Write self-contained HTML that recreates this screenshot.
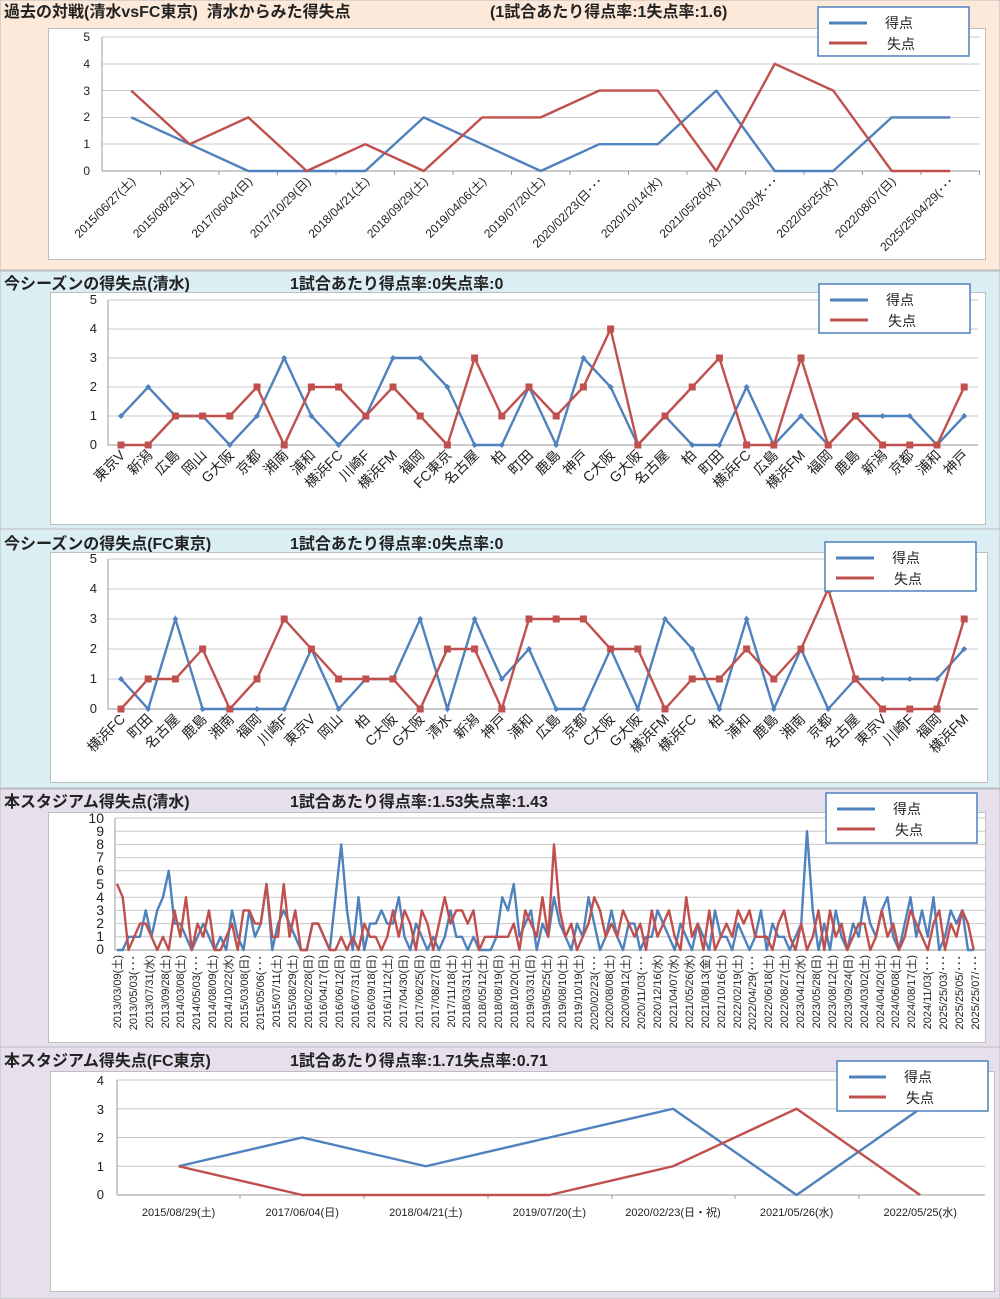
<!DOCTYPE html>
<html><head><meta charset="utf-8"><style>
body{margin:0;width:1000px;height:1299px;overflow:hidden;background:#fff}
svg{display:block}
text{font-family:"Liberation Sans","Noto Sans CJK JP",sans-serif;fill:#222}
.t{font-size:16px;font-weight:bold}
.ax{font-size:11px;fill:#333}
.cl{font-size:13px;fill:#222}
.g{stroke:#c8c8c8;stroke-width:1}
.b{fill:none;stroke:#4f81bd;stroke-width:2.4;vector-effect:non-scaling-stroke;stroke-linejoin:round}
.r{fill:none;stroke:#c0504d;stroke-width:2.4;vector-effect:non-scaling-stroke;stroke-linejoin:round}
.bx{fill:#fff;stroke:#bfbfbf}
.lg{fill:#fff;stroke:#4f81bd;stroke-width:1.5}
</style></head><body>
<svg width="1000" height="1299" viewBox="0 0 1000 1299">
<defs>
<marker id="md" markerUnits="userSpaceOnUse" markerWidth="8" markerHeight="8" refX="4" refY="4"><path d="M4 1L7 4L4 7L1 4Z" fill="#4f81bd"/></marker>
<marker id="ms" markerUnits="userSpaceOnUse" markerWidth="8" markerHeight="8" refX="4" refY="4"><rect x="0.5" y="0.5" width="7" height="7" fill="#c0504d"/></marker>
</defs>
<rect x="0" y="0" width="1000" height="270" fill="#fde9d9" stroke="#bbb"/>
<rect x="0" y="271" width="1000" height="258" fill="#daeef3" stroke="#bbb"/>
<rect x="0" y="529" width="1000" height="259" fill="#daeef3" stroke="#bbb"/>
<rect x="0" y="789" width="1000" height="258" fill="#e5e0ec" stroke="#bbb"/>
<rect x="0" y="1047" width="1000" height="252" fill="#e5e0ec" stroke="#bbb"/>

<!-- ============ PANEL 1 ============ -->
<text class="t" x="4" y="17">過去の対戦(清水vsFC東京)&#160;&#160;清水からみた得失点</text>
<text class="t" x="490" y="17">(1試合あたり得点率:1失点率:1.6)</text>
<rect class="bx" x="48.5" y="28.5" width="937" height="231"/>
<g class="g">
<line x1="102" x2="980" y1="37" y2="37"/><line x1="102" x2="980" y1="64" y2="64"/><line x1="102" x2="980" y1="90.5" y2="90.5"/><line x1="102" x2="980" y1="117.5" y2="117.5"/><line x1="102" x2="980" y1="144" y2="144"/>
</g>
<line x1="102" x2="980" y1="171" y2="171" stroke="#999"/>
<line x1="102" x2="102" y1="37" y2="171" stroke="#999"/>
<g stroke="#999"><line x1="160.5" x2="160.5" y1="171" y2="175"/><line x1="219" x2="219" y1="171" y2="175"/><line x1="277.5" x2="277.5" y1="171" y2="175"/><line x1="336" x2="336" y1="171" y2="175"/><line x1="394.5" x2="394.5" y1="171" y2="175"/><line x1="453" x2="453" y1="171" y2="175"/><line x1="511.5" x2="511.5" y1="171" y2="175"/><line x1="570" x2="570" y1="171" y2="175"/><line x1="628.5" x2="628.5" y1="171" y2="175"/><line x1="687" x2="687" y1="171" y2="175"/><line x1="745.5" x2="745.5" y1="171" y2="175"/><line x1="804" x2="804" y1="171" y2="175"/><line x1="862.5" x2="862.5" y1="171" y2="175"/><line x1="921" x2="921" y1="171" y2="175"/><line x1="979.5" x2="979.5" y1="171" y2="175"/></g>
<g class="ax" text-anchor="end" style="font-size:12px"><text x="90" y="41">5</text><text x="90" y="68">4</text><text x="90" y="95">3</text><text x="90" y="121">2</text><text x="90" y="148">1</text><text x="90" y="175">0</text></g>
<g class="ax" text-anchor="end" style="font-size:12px">
<text transform="translate(136,182) rotate(-45)">2015/06/27(土)</text>
<text transform="translate(194.5,182) rotate(-45)">2015/08/29(土)</text>
<text transform="translate(253,182) rotate(-45)">2017/06/04(日)</text>
<text transform="translate(311.5,182) rotate(-45)">2017/10/29(日)</text>
<text transform="translate(370,182) rotate(-45)">2018/04/21(土)</text>
<text transform="translate(428.5,182) rotate(-45)">2018/09/29(土)</text>
<text transform="translate(487,182) rotate(-45)">2019/04/06(土)</text>
<text transform="translate(545.5,182) rotate(-45)">2019/07/20(土)</text>
<text transform="translate(604,182) rotate(-45)">2020/02/23(日･･･</text>
<text transform="translate(662.5,182) rotate(-45)">2020/10/14(水)</text>
<text transform="translate(721,182) rotate(-45)">2021/05/26(水)</text>
<text transform="translate(779.5,182) rotate(-45)">2021/11/03(水･･･</text>
<text transform="translate(838,182) rotate(-45)">2022/05/25(水)</text>
<text transform="translate(896.5,182) rotate(-45)">2022/08/07(日)</text>
<text transform="translate(955,182) rotate(-45)">2025/25/04/29(･･･</text>
</g>
<g transform="translate(131.25,171) scale(58.5,-26.8)">
<polyline class="b" points="0,2 1,1 2,0 3,0 4,0 5,2 6,1 7,0 8,1 9,1 10,3 11,0 12,0 13,2 14,2"/>
<polyline class="r" points="0,3 1,1 2,2 3,0 4,1 5,0 6,2 7,2 8,3 9,3 10,0 11,4 12,3 13,0 14,0"/>
</g>
<rect class="lg" x="818" y="7" width="151" height="49"/>
<line x1="829" x2="867" y1="23" y2="23" stroke="#4f81bd" stroke-width="3"/>
<line x1="829" x2="867" y1="43" y2="43" stroke="#c0504d" stroke-width="3"/>
<text class="cl" x="885" y="28" style="font-size:14px">得点</text><text class="cl" x="887" y="49" style="font-size:14px">失点</text>

<!-- ============ PANEL 2 ============ -->
<text class="t" x="4" y="289">今シーズンの得失点(清水)</text>
<text class="t" x="290" y="289">1試合あたり得点率:0失点率:0</text>
<rect class="bx" x="50.5" y="292.5" width="935" height="232"/>
<g class="g"><line x1="108" x2="978" y1="300" y2="300"/><line x1="108" x2="978" y1="329" y2="329"/><line x1="108" x2="978" y1="358" y2="358"/><line x1="108" x2="978" y1="387" y2="387"/><line x1="108" x2="978" y1="416" y2="416"/></g>
<line x1="108" x2="978" y1="445" y2="445" stroke="#999"/>
<line x1="108" x2="108" y1="300" y2="445" stroke="#999"/>
<g class="ax" text-anchor="end" style="font-size:13px"><text x="97" y="304">5</text><text x="97" y="333">4</text><text x="97" y="362">3</text><text x="97" y="391">2</text><text x="97" y="420">1</text><text x="97" y="449">0</text></g>
<g class="cl" text-anchor="end" style="font-size:14px">
<text transform="translate(126,456) rotate(-45)">東京V</text>
<text transform="translate(153.2,456) rotate(-45)">新潟</text>
<text transform="translate(180.4,456) rotate(-45)">広島</text>
<text transform="translate(207.6,456) rotate(-45)">岡山</text>
<text transform="translate(234.8,456) rotate(-45)">G大阪</text>
<text transform="translate(262,456) rotate(-45)">京都</text>
<text transform="translate(289.2,456) rotate(-45)">湘南</text>
<text transform="translate(316.4,456) rotate(-45)">浦和</text>
<text transform="translate(343.6,456) rotate(-45)">横浜FC</text>
<text transform="translate(370.8,456) rotate(-45)">川崎F</text>
<text transform="translate(398,456) rotate(-45)">横浜FM</text>
<text transform="translate(425.2,456) rotate(-45)">福岡</text>
<text transform="translate(452.4,456) rotate(-45)">FC東京</text>
<text transform="translate(479.6,456) rotate(-45)">名古屋</text>
<text transform="translate(506.8,456) rotate(-45)">柏</text>
<text transform="translate(534,456) rotate(-45)">町田</text>
<text transform="translate(561.2,456) rotate(-45)">鹿島</text>
<text transform="translate(588.4,456) rotate(-45)">神戸</text>
<text transform="translate(615.6,456) rotate(-45)">C大阪</text>
<text transform="translate(642.8,456) rotate(-45)">G大阪</text>
<text transform="translate(670,456) rotate(-45)">名古屋</text>
<text transform="translate(697.2,456) rotate(-45)">柏</text>
<text transform="translate(724.4,456) rotate(-45)">町田</text>
<text transform="translate(751.6,456) rotate(-45)">横浜FC</text>
<text transform="translate(778.8,456) rotate(-45)">広島</text>
<text transform="translate(806,456) rotate(-45)">横浜FM</text>
<text transform="translate(833.2,456) rotate(-45)">福岡</text>
<text transform="translate(860.4,456) rotate(-45)">鹿島</text>
<text transform="translate(887.6,456) rotate(-45)">新潟</text>
<text transform="translate(914.8,456) rotate(-45)">京都</text>
<text transform="translate(942,456) rotate(-45)">浦和</text>
<text transform="translate(969.2,456) rotate(-45)">神戸</text>
</g>
<polyline fill="none" stroke="#4f81bd" stroke-width="2.4" marker-start="url(#md)" marker-mid="url(#md)" marker-end="url(#md)" points="121,416 148.2,387 175.4,416 202.6,416 229.8,445 257,416 284.2,358 311.4,416 338.6,445 365.8,416 393,358 420.2,358 447.4,387 474.6,445 501.8,445 529,387 556.2,445 583.4,358 610.6,387 637.8,445 665,416 692.2,445 719.4,445 746.6,387 773.8,445 801,416 828.2,445 855.4,416 882.6,416 909.8,416 937,445 964.2,416"/>
<polyline fill="none" stroke="#c0504d" stroke-width="2.4" marker-start="url(#ms)" marker-mid="url(#ms)" marker-end="url(#ms)" points="121,445 148.2,445 175.4,416 202.6,416 229.8,416 257,387 284.2,445 311.4,387 338.6,387 365.8,416 393,387 420.2,416 447.4,445 474.6,358 501.8,416 529,387 556.2,416 583.4,387 610.6,329 637.8,445 665,416 692.2,387 719.4,358 746.6,445 773.8,445 801,358 828.2,445 855.4,416 882.6,445 909.8,445 937,445 964.2,387"/>
<rect class="lg" x="819" y="284" width="151" height="49"/>
<line x1="830" x2="868" y1="300" y2="300" stroke="#4f81bd" stroke-width="3"/>
<line x1="830" x2="868" y1="320" y2="320" stroke="#c0504d" stroke-width="3"/>
<text class="cl" x="886" y="305" style="font-size:14px">得点</text><text class="cl" x="888" y="326" style="font-size:14px">失点</text>

<!-- ============ PANEL 3 ============ -->
<text class="t" x="4" y="549">今シーズンの得失点(FC東京)</text>
<text class="t" x="290" y="549">1試合あたり得点率:0失点率:0</text>
<rect class="bx" x="50.5" y="552.5" width="937" height="230"/>
<g class="g"><line x1="108" x2="978" y1="559" y2="559"/><line x1="108" x2="978" y1="589" y2="589"/><line x1="108" x2="978" y1="619" y2="619"/><line x1="108" x2="978" y1="649" y2="649"/><line x1="108" x2="978" y1="679" y2="679"/></g>
<line x1="108" x2="978" y1="709" y2="709" stroke="#999"/>
<line x1="108" x2="108" y1="559" y2="709" stroke="#999"/>
<g class="ax" text-anchor="end" style="font-size:13px"><text x="97" y="563">5</text><text x="97" y="593">4</text><text x="97" y="623">3</text><text x="97" y="653">2</text><text x="97" y="683">1</text><text x="97" y="713">0</text></g>
<g class="cl" text-anchor="end" style="font-size:14px">
<text transform="translate(126,720) rotate(-45)">横浜FC</text>
<text transform="translate(153.2,720) rotate(-45)">町田</text>
<text transform="translate(180.4,720) rotate(-45)">名古屋</text>
<text transform="translate(207.6,720) rotate(-45)">鹿島</text>
<text transform="translate(234.8,720) rotate(-45)">湘南</text>
<text transform="translate(262,720) rotate(-45)">福岡</text>
<text transform="translate(289.2,720) rotate(-45)">川崎F</text>
<text transform="translate(316.4,720) rotate(-45)">東京V</text>
<text transform="translate(343.6,720) rotate(-45)">岡山</text>
<text transform="translate(370.8,720) rotate(-45)">柏</text>
<text transform="translate(398,720) rotate(-45)">C大阪</text>
<text transform="translate(425.2,720) rotate(-45)">G大阪</text>
<text transform="translate(452.4,720) rotate(-45)">清水</text>
<text transform="translate(479.6,720) rotate(-45)">新潟</text>
<text transform="translate(506.8,720) rotate(-45)">神戸</text>
<text transform="translate(534,720) rotate(-45)">浦和</text>
<text transform="translate(561.2,720) rotate(-45)">広島</text>
<text transform="translate(588.4,720) rotate(-45)">京都</text>
<text transform="translate(615.6,720) rotate(-45)">C大阪</text>
<text transform="translate(642.8,720) rotate(-45)">G大阪</text>
<text transform="translate(670,720) rotate(-45)">横浜FM</text>
<text transform="translate(697.2,720) rotate(-45)">横浜FC</text>
<text transform="translate(724.4,720) rotate(-45)">柏</text>
<text transform="translate(751.6,720) rotate(-45)">浦和</text>
<text transform="translate(778.8,720) rotate(-45)">鹿島</text>
<text transform="translate(806,720) rotate(-45)">湘南</text>
<text transform="translate(833.2,720) rotate(-45)">京都</text>
<text transform="translate(860.4,720) rotate(-45)">名古屋</text>
<text transform="translate(887.6,720) rotate(-45)">東京V</text>
<text transform="translate(914.8,720) rotate(-45)">川崎F</text>
<text transform="translate(942,720) rotate(-45)">福岡</text>
<text transform="translate(969.2,720) rotate(-45)">横浜FM</text>
</g>
<polyline fill="none" stroke="#4f81bd" stroke-width="2.4" marker-start="url(#md)" marker-mid="url(#md)" marker-end="url(#md)" points="121,679 148.2,709 175.4,619 202.6,709 229.8,709 257,709 284.2,709 311.4,649 338.6,709 365.8,679 393,679 420.2,619 447.4,709 474.6,619 501.8,679 529,649 556.2,709 583.4,709 610.6,649 637.8,709 665,619 692.2,649 719.4,709 746.6,619 773.8,709 801,649 828.2,709 855.4,679 882.6,679 909.8,679 937,679 964.2,649"/>
<polyline fill="none" stroke="#c0504d" stroke-width="2.4" marker-start="url(#ms)" marker-mid="url(#ms)" marker-end="url(#ms)" points="121,709 148.2,679 175.4,679 202.6,649 229.8,709 257,679 284.2,619 311.4,649 338.6,679 365.8,679 393,679 420.2,709 447.4,649 474.6,649 501.8,709 529,619 556.2,619 583.4,619 610.6,649 637.8,649 665,709 692.2,679 719.4,679 746.6,649 773.8,679 801,649 828.2,589 855.4,679 882.6,709 909.8,709 937,709 964.2,619"/>
<rect class="lg" x="825" y="542" width="151" height="49"/>
<line x1="836" x2="874" y1="558" y2="558" stroke="#4f81bd" stroke-width="3"/>
<line x1="836" x2="874" y1="578" y2="578" stroke="#c0504d" stroke-width="3"/>
<text class="cl" x="892" y="563" style="font-size:14px">得点</text><text class="cl" x="894" y="584" style="font-size:14px">失点</text>

<!-- ============ PANEL 4 ============ -->
<text class="t" x="4" y="807">本スタジアム得失点(清水)</text>
<text class="t" x="290" y="807">1試合あたり得点率:1.53失点率:1.43</text>
<rect class="bx" x="48.5" y="812.5" width="937" height="230"/>
<g class="g">
<line x1="115" x2="985" y1="818" y2="818"/><line x1="115" x2="985" y1="831.2" y2="831.2"/><line x1="115" x2="985" y1="844.4" y2="844.4"/><line x1="115" x2="985" y1="857.6" y2="857.6"/><line x1="115" x2="985" y1="870.8" y2="870.8"/><line x1="115" x2="985" y1="884" y2="884"/><line x1="115" x2="985" y1="897.2" y2="897.2"/><line x1="115" x2="985" y1="910.4" y2="910.4"/><line x1="115" x2="985" y1="923.6" y2="923.6"/><line x1="115" x2="985" y1="936.8" y2="936.8"/>
</g>
<line x1="115" x2="985" y1="950" y2="950" stroke="#999"/>
<line x1="115" x2="115" y1="818" y2="950" stroke="#999"/>
<g class="ax" text-anchor="end" style="font-size:14px"><text x="104" y="823">10</text><text x="104" y="836">9</text><text x="104" y="849">8</text><text x="104" y="862">7</text><text x="104" y="875">6</text><text x="104" y="889">5</text><text x="104" y="902">4</text><text x="104" y="915">3</text><text x="104" y="928">2</text><text x="104" y="941">1</text><text x="104" y="954">0</text></g>
<g class="ax" text-anchor="end">
<text transform="translate(121,955) rotate(-90)">2013/03/09(土)</text>
<text transform="translate(137,955) rotate(-90)">2013/05/03(･･･</text>
<text transform="translate(153,955) rotate(-90)">2013/07/31(水)</text>
<text transform="translate(169,955) rotate(-90)">2013/09/28(土)</text>
<text transform="translate(184,955) rotate(-90)">2014/03/08(土)</text>
<text transform="translate(200,955) rotate(-90)">2014/05/03(･･･</text>
<text transform="translate(216,955) rotate(-90)">2014/08/09(土)</text>
<text transform="translate(232,955) rotate(-90)">2014/10/22(水)</text>
<text transform="translate(248,955) rotate(-90)">2015/03/08(日)</text>
<text transform="translate(264,955) rotate(-90)">2015/05/06(･･･</text>
<text transform="translate(280,955) rotate(-90)">2015/07/11(土)</text>
<text transform="translate(296,955) rotate(-90)">2015/08/29(土)</text>
<text transform="translate(312,955) rotate(-90)">2016/02/28(日)</text>
<text transform="translate(327,955) rotate(-90)">2016/04/17(日)</text>
<text transform="translate(343,955) rotate(-90)">2016/06/12(日)</text>
<text transform="translate(359,955) rotate(-90)">2016/07/31(日)</text>
<text transform="translate(375,955) rotate(-90)">2016/09/18(日)</text>
<text transform="translate(391,955) rotate(-90)">2016/11/12(土)</text>
<text transform="translate(407,955) rotate(-90)">2017/04/30(日)</text>
<text transform="translate(423,955) rotate(-90)">2017/06/25(日)</text>
<text transform="translate(439,955) rotate(-90)">2017/08/27(日)</text>
<text transform="translate(455,955) rotate(-90)">2017/11/18(土)</text>
<text transform="translate(470,955) rotate(-90)">2018/03/31(土)</text>
<text transform="translate(486,955) rotate(-90)">2018/05/12(土)</text>
<text transform="translate(502,955) rotate(-90)">2018/08/19(日)</text>
<text transform="translate(518,955) rotate(-90)">2018/10/20(土)</text>
<text transform="translate(534,955) rotate(-90)">2019/03/31(日)</text>
<text transform="translate(550,955) rotate(-90)">2019/05/25(土)</text>
<text transform="translate(566,955) rotate(-90)">2019/08/10(土)</text>
<text transform="translate(582,955) rotate(-90)">2019/10/19(土)</text>
<text transform="translate(598,955) rotate(-90)">2020/02/23(･･･</text>
<text transform="translate(613,955) rotate(-90)">2020/08/08(土)</text>
<text transform="translate(629,955) rotate(-90)">2020/09/12(土)</text>
<text transform="translate(645,955) rotate(-90)">2020/11/03(･･･</text>
<text transform="translate(661,955) rotate(-90)">2020/12/16(水)</text>
<text transform="translate(677,955) rotate(-90)">2021/04/07(水)</text>
<text transform="translate(693,955) rotate(-90)">2021/05/26(水)</text>
<text transform="translate(709,955) rotate(-90)">2021/08/13(金)</text>
<text transform="translate(725,955) rotate(-90)">2021/10/16(土)</text>
<text transform="translate(741,955) rotate(-90)">2022/02/19(土)</text>
<text transform="translate(756,955) rotate(-90)">2022/04/29(･･･</text>
<text transform="translate(772,955) rotate(-90)">2022/06/18(土)</text>
<text transform="translate(788,955) rotate(-90)">2022/08/27(土)</text>
<text transform="translate(804,955) rotate(-90)">2023/04/12(水)</text>
<text transform="translate(820,955) rotate(-90)">2023/05/28(日)</text>
<text transform="translate(836,955) rotate(-90)">2023/08/12(土)</text>
<text transform="translate(852,955) rotate(-90)">2023/09/24(日)</text>
<text transform="translate(868,955) rotate(-90)">2024/03/02(土)</text>
<text transform="translate(884,955) rotate(-90)">2024/04/20(土)</text>
<text transform="translate(899,955) rotate(-90)">2024/06/08(土)</text>
<text transform="translate(915,955) rotate(-90)">2024/08/17(土)</text>
<text transform="translate(931,955) rotate(-90)">2024/11/03(･･･</text>
<text transform="translate(947,955) rotate(-90)">2025/25/03/･･･</text>
<text transform="translate(963,955) rotate(-90)">2025/25/05/･･･</text>
<text transform="translate(979,955) rotate(-90)">2025/25/07/･･･</text>
</g>
<g transform="translate(117,950) scale(5.75,-13.2)">
<polyline class="b" points="0,0 1,0 2,1 3,1 4,1 5,3 6,1 7,3 8,4 9,6 10,2 11,2 12,1 13,0 14,1 15,2 16,1 17,0 18,1 19,0 20,3 21,1 22,0 23,3 24,1 25,2 26,5 27,0 28,2 29,3 30,2 31,1 32,0 33,0 34,2 35,2 36,1 37,0 38,4 39,8 40,3 41,0 42,4 43,0 44,2 45,2 46,3 47,2 48,2 49,4 50,1 51,0 52,2 53,1 54,0 55,1 56,0 57,1 58,3 59,1 60,1 61,0 62,1 63,0 64,0 65,0 66,1 67,4 68,3 69,5 70,1 71,2 72,3 73,0 74,2 75,1 76,4 77,2 78,1 79,0 80,2 81,1 82,4 83,2 84,0 85,1 86,3 87,1 88,0 89,2 90,2 91,0 92,1 93,1 94,3 95,2 96,1 97,0 98,2 99,1 100,0 101,2 102,1 103,0 104,3 105,1 106,1 107,0 108,2 109,1 110,0 111,1 112,3 113,0 114,2 115,1 116,1 117,0 118,1 119,2 120,9 121,3 122,0 123,2 124,0 125,3 126,1 127,0 128,2 129,1 130,4 131,2 132,1 133,3 134,4 135,1 136,0 137,2 138,4 139,1 140,3 141,1 142,4 143,0 144,1 145,3 146,2 147,3 148,0 149,0"/>
<polyline class="r" points="0,5 1,4 2,0 3,1 4,2 5,2 6,1 7,0 8,1 9,0 10,3 11,1 12,4 13,0 14,2 15,1 16,3 17,0 18,0 19,1 20,2 21,0 22,3 23,3 24,2 25,2 26,5 27,1 28,1 29,5 30,1 31,3 32,0 33,0 34,2 35,2 36,1 37,0 38,0 39,1 40,0 41,1 42,0 43,2 44,1 45,1 46,0 47,1 48,3 49,1 50,3 51,2 52,0 53,3 54,2 55,0 56,2 57,4 58,2 59,3 60,3 61,2 62,3 63,0 64,1 65,1 66,1 67,1 68,1 69,2 70,0 71,3 72,2 73,1 74,4 75,1 76,8 77,3 78,1 79,2 80,0 81,1 82,2 83,4 84,3 85,1 86,2 87,1 88,3 89,2 90,1 91,2 92,0 93,3 94,1 95,2 96,3 97,1 98,0 99,4 100,1 101,2 102,0 103,3 104,0 105,1 106,2 107,1 108,3 109,2 110,3 111,1 112,1 113,1 114,0 115,2 116,3 117,1 118,0 119,2 120,0 121,1 122,3 123,0 124,3 125,1 126,2 127,0 128,1 129,2 130,2 131,0 132,1 133,3 134,1 135,2 136,0 137,1 138,3 139,2 140,1 141,0 142,2 143,3 144,0 145,2 146,1 147,3 148,2 149,0"/>
</g>
<rect class="lg" x="826" y="793" width="151" height="50"/>
<line x1="837" x2="875" y1="809" y2="809" stroke="#4f81bd" stroke-width="3"/>
<line x1="837" x2="875" y1="829" y2="829" stroke="#c0504d" stroke-width="3"/>
<text class="cl" x="893" y="814" style="font-size:14px">得点</text><text class="cl" x="895" y="835" style="font-size:14px">失点</text>

<!-- ============ PANEL 5 ============ -->
<text class="t" x="4" y="1066">本スタジアム得失点(FC東京)</text>
<text class="t" x="290" y="1066">1試合あたり得点率:1.71失点率:0.71</text>
<rect class="bx" x="50.5" y="1071.5" width="944" height="220"/>
<g class="g"><line x1="117" x2="985" y1="1080" y2="1080"/><line x1="117" x2="985" y1="1108.75" y2="1108.75"/><line x1="117" x2="985" y1="1137.5" y2="1137.5"/><line x1="117" x2="985" y1="1166.25" y2="1166.25"/></g>
<line x1="117" x2="985" y1="1195" y2="1195" stroke="#999"/>
<line x1="117" x2="117" y1="1080" y2="1195" stroke="#999"/>
<g stroke="#999"><line x1="240" x2="240" y1="1195" y2="1199"/><line x1="364" x2="364" y1="1195" y2="1199"/><line x1="488" x2="488" y1="1195" y2="1199"/><line x1="612" x2="612" y1="1195" y2="1199"/><line x1="735" x2="735" y1="1195" y2="1199"/><line x1="859" x2="859" y1="1195" y2="1199"/></g>
<g class="ax" text-anchor="end" style="font-size:13px"><text x="104" y="1085">4</text><text x="104" y="1114">3</text><text x="104" y="1142">2</text><text x="104" y="1171">1</text><text x="104" y="1199">0</text></g>
<g class="ax" text-anchor="middle">
<text x="178.6" y="1216">2015/08/29(土)</text><text x="302.2" y="1216">2017/06/04(日)</text><text x="425.8" y="1216">2018/04/21(土)</text><text x="549.4" y="1216">2019/07/20(土)</text><text x="673" y="1216">2020/02/23(日・祝)</text><text x="796.6" y="1216">2021/05/26(水)</text><text x="920.2" y="1216">2022/05/25(水)</text>
</g>
<g transform="translate(178.6,1195) scale(123.6,-28.75)">
<polyline class="b" points="0,1 1,2 2,1 3,2 4,3 5,0 6,3"/>
<polyline class="r" points="0,1 1,0 2,0 3,0 4,1 5,3 6,0"/>
</g>
<rect class="lg" x="837" y="1061" width="151" height="50"/>
<line x1="849" x2="886" y1="1077" y2="1077" stroke="#4f81bd" stroke-width="3"/>
<line x1="849" x2="886" y1="1097" y2="1097" stroke="#c0504d" stroke-width="3"/>
<text class="cl" x="904" y="1082" style="font-size:14px">得点</text><text class="cl" x="906" y="1103" style="font-size:14px">失点</text>
</svg>
</body></html>
